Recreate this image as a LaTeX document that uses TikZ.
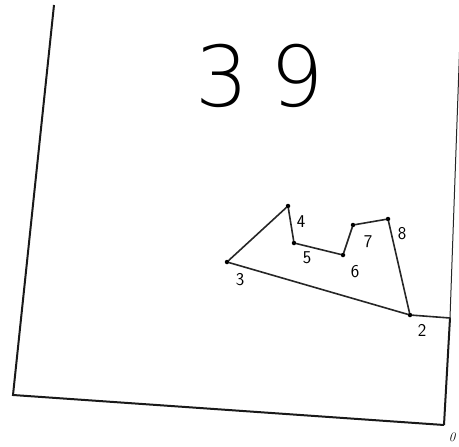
\documentclass[tikz,border=0pt]{standalone}
\usepackage{fontspec}
\newfontfamily\thinfont{DejaVuSans-ExtraLight.ttf}
\begin{document}
\begin{tikzpicture}[x=1pt,y=-1pt,
  frame/.style={line width=2pt,black!90},
  edge/.style={line width=1.6pt,black!85,line cap=round},
  pt/.style={circle,fill=black,inner sep=0pt,minimum size=4.5pt},
  lab/.style={font=\sffamily\fontsize{18}{18}\selectfont,inner sep=0pt}]
\useasboundingbox (0,0) rectangle (459,447);
% frame
\coordinate (tl) at (54,5);
\coordinate (bl) at (13,395);
\coordinate (br) at (444,425);
\coordinate (tr) at (461,10);
\coordinate (rm) at (450,318);
\draw[frame] (tl) -- (bl) -- (br);
\draw[line width=1pt,black!85] (tr) -- (rm);
\draw[frame] (rm) -- (br);
% title
\node[font=\thinfont\fontsize{84}{84}\selectfont,inner sep=0pt] (title) at (260,76) {3\hspace{22pt}9};
% points
\node[pt] (p2) at (410,315) {};
\node[pt] (p3) at (227,262) {};
\node[pt] (p4) at (288,206) {};
\node[pt] (p5) at (294,243) {};
\node[pt] (p6) at (343,255) {};
\node[pt] (p7) at (353,225) {};
\node[pt] (p8) at (388,219) {};
% edges
\draw[edge] (p3) -- (p4) -- (p5) -- (p6) -- (p7) -- (p8) -- (p2) -- (p3);
\draw[edge] (p2) -- (rm);
% labels
\node[lab] (l2) at (422,330) {2};
\node[lab] (l3) at (240,280) {3};
\node[lab] (l4) at (301,222) {4};
\node[lab] (l5) at (307,258) {5};
\node[lab] (l6) at (355,272) {6};
\node[lab] (l7) at (368,242) {7};
\node[lab] (l8) at (402,234) {8};
\node[font=\itshape\fontsize{13}{13}\selectfont,inner sep=0pt] (l0) at (452,437) {0};
\end{tikzpicture}
\end{document}
